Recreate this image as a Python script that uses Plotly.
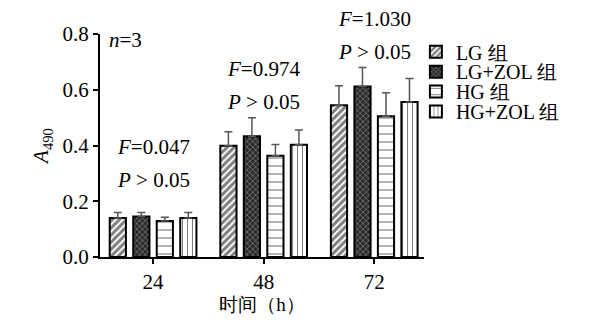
import plotly.graph_objects as go

# time points (h)
times = ["24", "48", "72"]

# mean A490 per group and upper SD
lg_mean = [0.140, 0.399, 0.544]
lg_sd = [0.020, 0.050, 0.070]
lgzol_mean = [0.145, 0.433, 0.612]
lgzol_sd = [0.015, 0.067, 0.068]
hg_mean = [0.129, 0.363, 0.505]
hg_sd = [0.014, 0.041, 0.084]
hgzol_mean = [0.140, 0.403, 0.556]
hgzol_sd = [0.020, 0.053, 0.084]

group_names = ["LG 组", "LG+ZOL 组", "HG 组", "HG+ZOL 组"]

# F statistics per time point
f_values = ["0.047", "0.974", "1.030"]
f_label_y = [0.395, 0.675, 0.855]

FONT = "Liberation Serif, Times New Roman, serif"
Y_MAX = 0.8

styles = [
    dict(shape="/", fg="black", bg="white", size=5, solidity=0.6),
    dict(shape="x", fg="#dddddd", bg="#2a2a2a", size=4, solidity=0.3),
    dict(shape="-", fg="black", bg="white", size=8, solidity=0.15),
    dict(shape="|", fg="black", bg="white", size=5, solidity=0.2),
]
means = [lg_mean, lgzol_mean, hg_mean, hgzol_mean]
sds = [lg_sd, lgzol_sd, hg_sd, hgzol_sd]
legend_ids = ["legend", "legend2", "legend3", "legend4"]

fig = go.Figure()
for name, m, s, st, lid in zip(group_names, means, sds, styles, legend_ids):
    fig.add_trace(go.Bar(
        x=times, y=m, name=name, legend=lid,
        marker=dict(
            color=st["bg"],
            line=dict(color="black", width=2),
            pattern=dict(shape=st["shape"], fgcolor=st["fg"], bgcolor=st["bg"],
                         size=st["size"], solidity=st["solidity"], fillmode="overlay"),
        ),
        error_y=dict(type="data", array=s, arrayminus=[0] * len(s), symmetric=False,
                     color="#555555", thickness=1.5, width=4),
    ))

txt_font = dict(family=FONT, size=21, color="black")
annotations = [
    dict(x=-0.42, y=0.78 / Y_MAX, xref="x", yref="paper", text="<i>n</i>=3", showarrow=False,
         xanchor="left", yanchor="middle", font=txt_font),
]
for i, (fv, fy) in enumerate(zip(f_values, f_label_y)):
    annotations.append(dict(x=i, y=fy / Y_MAX, xref="x", yref="paper", text=f"<i>F</i>={fv}",
                            showarrow=False, xanchor="center", yanchor="middle", font=txt_font))
    annotations.append(dict(x=i, y=(fy - 0.118) / Y_MAX, xref="x", yref="paper",
                            text="<i>P</i> > 0.05", showarrow=False,
                            xanchor="center", yanchor="middle", font=txt_font))

# one legend box per group so the rows can sit tightly stacked
legend_layout = {}
for k, lid in enumerate(legend_ids):
    legend_layout[lid] = dict(
        x=0.975, y=0.92 - k * 0.089, xanchor="left", yanchor="middle",
        font=dict(family=FONT, size=20, color="black"),
        itemwidth=30, bgcolor="rgba(0,0,0,0)",
        borderwidth=0, tracegroupgap=0,
    )

fig.update_layout(
    width=589, height=323,
    margin=dict(l=100, r=165, t=34, b=66),
    paper_bgcolor="white", plot_bgcolor="white",
    barmode="group", bargap=0.15, bargroupgap=0.31,
    font=dict(family=FONT, size=20, color="black"),
    showlegend=True,
    annotations=annotations,
    xaxis=dict(
        type="category", range=[-0.48, 2.45],
        showline=True, linecolor="black", linewidth=2,
        ticks="outside", ticklen=5, tickwidth=2, tickcolor="black",
        tickfont=dict(family=FONT, size=21),
        title=dict(text="时间（h）", font=dict(family=FONT, size=19), standoff=4),
        showgrid=False, zeroline=False,
    ),
    yaxis=dict(
        range=[0, Y_MAX], tickvals=[0, 0.2, 0.4, 0.6, 0.8], tickformat=".1f",
        showline=True, linecolor="black", linewidth=2,
        ticks="outside", ticklen=5, tickwidth=2, tickcolor="black",
        tickfont=dict(family=FONT, size=21),
        title=dict(text="<i>A</i><sub>490</sub>", font=dict(family=FONT, size=21), standoff=8),
        showgrid=False, zeroline=False,
    ),
    **legend_layout,
)

fig.write_html("out.html")
